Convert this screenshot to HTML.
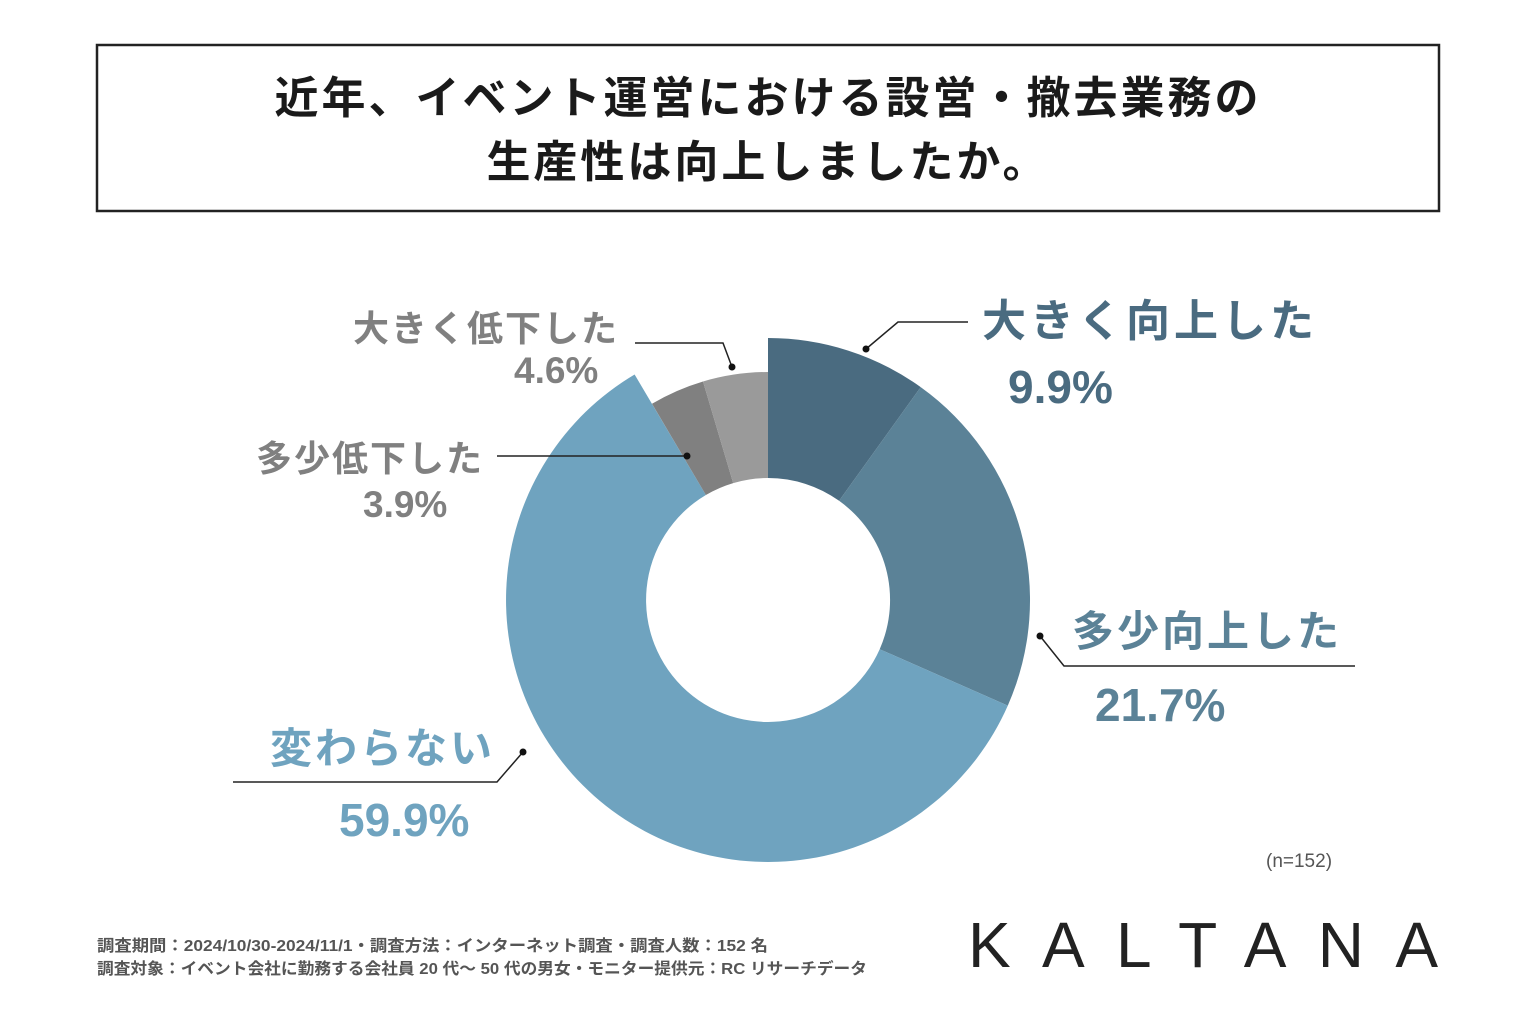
<!DOCTYPE html>
<html><head><meta charset="utf-8"><style>
body{margin:0;background:#fff;}
svg text{font-family:"Liberation Sans","Noto Sans CJK JP",sans-serif;font-weight:bold;}
</style></head><body>
<svg width="1536" height="1024" viewBox="0 0 1536 1024" xmlns="http://www.w3.org/2000/svg">
<rect x="97" y="45" width="1342" height="166" fill="#fff" stroke="#222" stroke-width="2.5"/>
<text x="768" y="113" font-size="44" text-anchor="middle" fill="#1a1a1a" letter-spacing="3">近年、イベント運営における設営・撤去業務の</text>
<text x="768" y="177" font-size="44" text-anchor="middle" fill="#1a1a1a" letter-spacing="3">生産性は向上しましたか。</text>

<path d="M768,338 A262,262 0 0 1 920.7,387.1 L839.1,500.8 A122,122 0 0 0 768,478 Z" fill="#4a6b80"/>
<path d="M920.7,387.1 A262,262 0 0 1 1007.8,705.6 L879.7,649.2 A122,122 0 0 0 839.1,500.8 Z" fill="#5b8297"/>
<path d="M1007.8,705.6 A262,262 0 1 1 634.6,374.5 L705.9,495.0 A122,122 0 1 0 879.7,649.2 Z" fill="#6fa3bf"/>
<path d="M652.0,403.8 A228,228 0 0 1 703.0,381.5 L733.2,483.1 A122,122 0 0 0 705.9,495.0 Z" fill="#808080"/>
<path d="M703.0,381.5 A228,228 0 0 1 768,372 L768,478 A122,122 0 0 0 733.2,483.1 Z" fill="#9a9a9a"/>

<g stroke="#222" stroke-width="1.5" fill="none">
<polyline points="866,349 898,322 968,322"/>
<polyline points="1040,636 1064,666 1355,666"/>
<polyline points="523,752 497,782 233,782"/>
<polyline points="687,456 497,456"/>
<polyline points="732,367 723,343 635,343"/>
</g>
<g fill="#111"><circle cx="866" cy="349" r="3.5"/><circle cx="1040" cy="636" r="3.5"/><circle cx="523" cy="752" r="3.5"/><circle cx="687" cy="456" r="3.5"/><circle cx="732" cy="367" r="3.5"/></g>

<text x="982" y="336" font-size="44" fill="#4a6b80" letter-spacing="4">大きく向上した</text>
<text x="1008" y="403" font-size="46" fill="#4a6b80">9.9%</text>
<text x="1072" y="646" font-size="42" fill="#5b8297" letter-spacing="3">多少向上した</text>
<text x="1095" y="721" font-size="46" fill="#5b8297">21.7%</text>
<text x="270" y="763" font-size="42" fill="#6fa3bf" letter-spacing="3">変わらない</text>
<text x="339" y="836" font-size="46" fill="#6fa3bf">59.9%</text>
<text x="256" y="471" font-size="36" fill="#808080" letter-spacing="2">多少低下した</text>
<text x="363" y="517" font-size="37" fill="#808080">3.9%</text>
<text x="353" y="341" font-size="36" fill="#808080" letter-spacing="2">大きく低下した</text>
<text x="514" y="383" font-size="37" fill="#808080">4.6%</text>

<text x="1266" y="867" font-size="19" fill="#555" style="font-weight:normal">(n=152)</text>
<text x="97" y="951" font-size="16" fill="#555" textLength="671" lengthAdjust="spacingAndGlyphs">調査期間：2024/10/30-2024/11/1・調査方法：インターネット調査・調査人数：152 名</text>
<text x="97" y="974" font-size="16" fill="#555" textLength="770" lengthAdjust="spacingAndGlyphs">調査対象：イベント会社に勤務する会社員 20 代～ 50 代の男女・モニター提供元：RC リサーチデータ</text>
<text x="968" y="967" font-size="64" fill="#222" style="font-weight:normal" textLength="470" lengthAdjust="spacing">KALTANA</text>
</svg>
</body></html>
